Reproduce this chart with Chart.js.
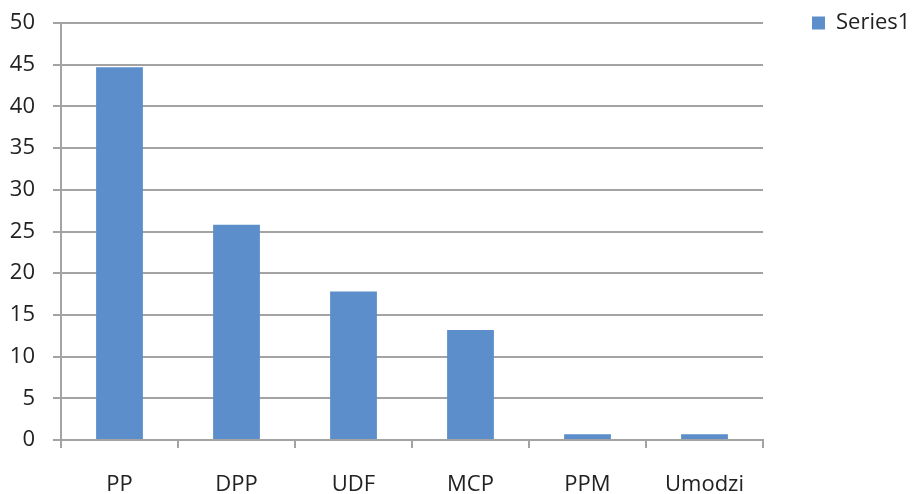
<!DOCTYPE html>
<html>
<head>
<meta charset="utf-8">
<script src="https://cdn.jsdelivr.net/npm/chart.js@4.4.1/dist/chart.umd.min.js"></script>
<style>
  html, body { margin: 0; padding: 0; background: #ffffff; }
  #wrap { width: 912px; height: 494px; }
</style>
</head>
<body>
<div id="wrap"><canvas id="c" width="912" height="494"></canvas></div>
<script>
const categories = ['PP', 'DPP', 'UDF', 'MCP', 'PPM', 'Umodzi'];
const series1 = [44.7, 25.8, 17.8, 13.2, 0.7, 0.7];
const seriesName = 'Series1';
const yMin = 0, yMax = 50, yStep = 5;

const FONT = "'Open Sans', 'Liberation Sans', sans-serif";
const TEXT = '#222222';
const GRID = '#a3a3a3';
const BAR = '#5b8ecb';

const legendShift = {
  id: 'legendShift',
  afterInit(chart) {
    const lg = chart.legend;
    const origFit = lg.fit;
    lg.fit = function () {
      origFit.call(this);
      if (!this.isHorizontal()) this.width = 144;
    };
    const origDraw = lg.draw;
    lg.draw = function (area) {
      const ctx = this.ctx;
      ctx.save();
      ctx.translate(39, -21);
      origDraw.call(this, area);
      ctx.restore();
    };
  }
};

new Chart(document.getElementById('c'), {
  type: 'bar',
  data: {
    labels: categories,
    datasets: [{
      label: seriesName,
      data: series1,
      backgroundColor: BAR,
      borderWidth: 0,
      barPercentage: 0.4,
      categoryPercentage: 1.0
    }]
  },
  options: {
    responsive: false,
    animation: false,
    devicePixelRatio: 1,
    layout: { padding: { top: 23, left: 10, right: 5, bottom: 0 } },
    plugins: {
      legend: {
        position: 'right',
        align: 'start',
        labels: {
          boxWidth: 13,
          boxHeight: 13,
          padding: 10,
          color: TEXT,
          font: { family: FONT, size: 22 }
        }
      },
      tooltip: { enabled: false }
    },
    scales: {
      x: {
        offset: true,
        afterFit(scale) { scale.height = 54; },
        grid: {
          offset: true,
          drawOnChartArea: false,
          drawTicks: true,
          tickLength: 8,
          color: GRID,
          lineWidth: 2
        },
        border: { color: GRID, width: 2 },
        ticks: {
          color: TEXT,
          padding: 24,
          maxRotation: 0,
          autoSkip: false,
          font: { family: FONT, size: 22 }
        }
      },
      y: {
        min: yMin,
        max: yMax,
        afterFit(scale) {
          scale.width = 51;
          scale.paddingTop = 0;
          scale.paddingBottom = 0;
        },
        grid: {
          color: GRID,
          lineWidth: 2,
          tickLength: 8,
          drawTicks: true
        },
        border: { color: GRID, width: 2 },
        ticks: {
          stepSize: yStep,
          color: TEXT,
          padding: 18,
          font: { family: FONT, size: 22 }
        }
      }
    }
  },
  plugins: [legendShift]
});
</script>
</body>
</html>
